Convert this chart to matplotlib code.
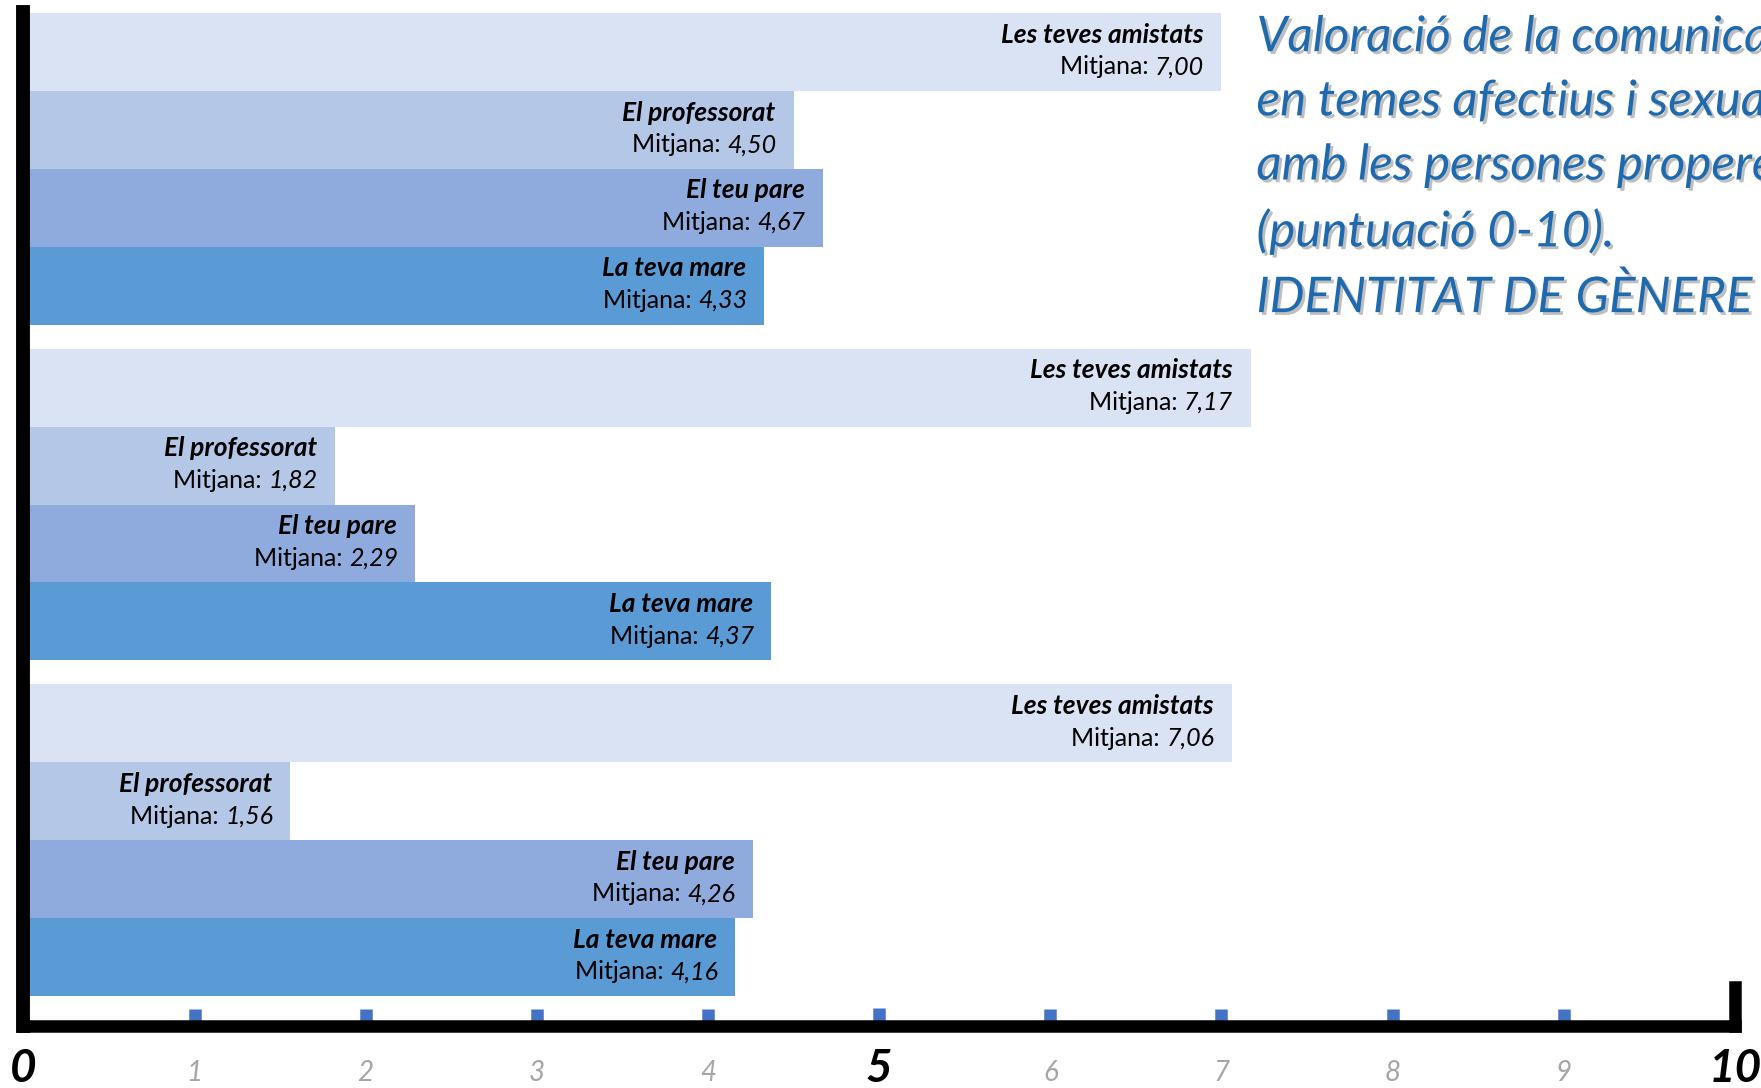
import matplotlib
matplotlib.use('Agg')
import matplotlib.pyplot as plt
import matplotlib.patheffects as pe

# dades (de dalt a baix)
grups = ['Grup 1', 'Grup 2', 'Grup 3']
persones = ['Les teves amistats', 'El professorat', 'El teu pare', 'La teva mare']
mitjanes = [
    [7.00, 4.50, 4.67, 4.33],
    [7.17, 1.82, 2.29, 4.37],
    [7.06, 1.56, 4.26, 4.16],
]
colors = ['#DAE3F3', '#B4C7E7', '#8FAADC', '#5B9BD5']
ticks_eix = [1, 2, 3, 4, 5, 6, 7, 8, 9]
ticks_petits = [1, 2, 3, 4, 6, 7, 8, 9]
ticks_grans = [0, 5, 10]

titol = ('Valoració de la comunicació\nen temes afectius i sexuals\n'
         'amb les persones properes\n(puntuació 0-10).\nIDENTITAT DE GÈNERE')

plt.rcParams['font.family'] = ['Lato', 'DejaVu Sans']

fig = plt.figure(figsize=(17.61, 10.88), dpi=100)
ax = fig.add_axes([0.01329, 0.057, 0.9719, 0.932])

gap = 0.31
base = 0.385
for g, vals in enumerate(mitjanes):
    g_bottom = base + (len(mitjanes) - 1 - g) * (len(persones) + gap)
    for i, (nom, v) in enumerate(zip(persones, vals)):
        yc = g_bottom + (len(persones) - 1 - i) + 0.5
        ax.barh(yc, v, height=1.0, color=colors[i], zorder=1)
        ax.annotate(nom, xy=(v, yc), xytext=(-13, 6.8), textcoords='offset points',
                    ha='right', va='baseline', fontsize=19, fontweight='bold',
                    fontstyle='italic', color='black')
        val = ax.annotate(f'{v:.2f}'.replace('.', ','), xy=(v, yc), xytext=(-12.5, -16),
                          textcoords='offset points', ha='right', va='baseline',
                          fontsize=18, fontstyle='italic', color='black')
        ax.annotate('Mitjana: ', xy=(0, 0), xycoords=val, ha='right', va='bottom',
                    fontsize=18, color='black')

ax.set_xlim(0, 10)
ax.set_ylim(0, 13.02)

sombra = [pe.SimplePatchShadow(offset=(3, -3), shadow_rgbFace='#808080', alpha=0.5), pe.Normal()]
ax.spines['top'].set_visible(False)
for s, w in [('left', 10), ('bottom', 9), ('right', 9)]:
    ax.spines[s].set_linewidth(w)
    ax.spines[s].set_color('black')
    ax.spines[s].set_capstyle('projecting')
    ax.spines[s].set_zorder(3)
    ax.spines[s].set_path_effects(sombra)
ax.spines['right'].set_bounds(0, 0.5)

ax.set_yticks([])
ax.set_xticks(ticks_eix)
ax.tick_params(axis='x', direction='in', length=12, width=9, color='#4472C4',
               labelbottom=False)
tick5 = ax.xaxis.get_major_ticks()[ticks_eix.index(5)]
tick5.tick1line.set_color('#1F3864')
tick5.tick1line.set_markersize(13)

for x in ticks_petits:
    ax.text(x, -0.6, str(x), ha='center', va='center', fontsize=20,
            fontstyle='italic', color='#A6A6A6', clip_on=False)
for x in ticks_grans:
    ax.text(x, -0.55, str(x), ha='center', va='center', fontsize=33,
            fontstyle='italic', fontweight='bold', color='black', clip_on=False)

fig.text(0.7135, 0.986, titol, ha='left', va='top', fontsize=35.5, fontstyle='italic',
         color='#1F6AAE', linespacing=1.56,
         path_effects=[pe.SimplePatchShadow(offset=(2, -2), shadow_rgbFace='#606060', alpha=0.4),
                       pe.Normal()])

fig.savefig('out.png', dpi=100)
